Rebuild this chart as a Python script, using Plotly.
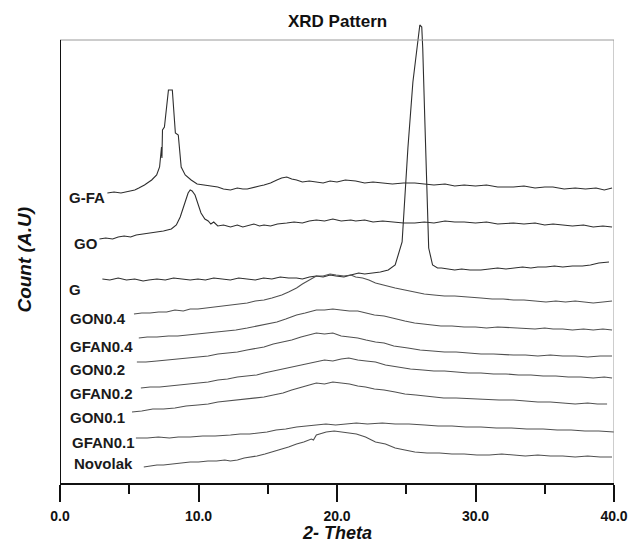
import plotly.graph_objects as go

# ---- data (2-theta in degrees, stacked intensity in arbitrary units) ----
names = ["G-FA", "GO", "G", "GON0.4", "GFAN0.4", "GON0.2", "GFAN0.2", "GON0.1", "GFAN0.1", "Novolak"]

gfa_x = [3.42, 3.9, 4.4, 4.98, 5.4, 5.69, 6.1, 6.62, 6.98, 7.19, 7.33, 7.36, 7.40, 7.54, 7.69, 7.83, 8.11, 8.19, 8.33,
         8.54, 8.68, 8.75, 9.04, 9.47, 9.9, 10.46, 10.9, 11.39, 11.8, 12.31, 12.8, 13.2, 13.52, 14.0, 14.4, 14.73,
         15.2, 15.66, 16.0, 16.37, 16.73, 17.08, 17.5, 18.0, 18.51, 19.0, 19.5, 20.0, 20.6, 21.35, 22.0, 22.6, 23.3,
         24.0, 24.8, 25.62, 26.3, 27.0, 27.8, 28.5, 29.18, 30.0, 30.8, 31.6, 32.74, 33.5, 34.3, 35.0, 35.59, 36.4,
         37.2, 37.94, 38.7, 39.3, 39.86]
gfa_y = [290, 291, 290, 292, 293, 295, 298, 303, 308, 316, 336, 325, 353, 356, 376, 393, 393, 373, 350,
         348, 330, 316, 308, 303, 299, 298, 297, 296, 294, 293, 295, 294, 294, 296, 297, 298,
         300, 303, 305, 306, 304, 303, 301, 302, 301, 300, 302, 301, 303, 302, 300, 301, 300,
         299, 300, 300, 299, 298, 299, 297, 298, 297, 298, 296, 296, 297, 295, 296, 296, 294,
         295, 294, 295, 293, 295]

go_x = [2.85, 3.3, 3.8, 4.2, 4.63, 5.1, 5.5, 6.0, 6.41, 6.9, 7.47, 8.04, 8.40, 8.68, 8.97, 9.25, 9.40, 9.54, 9.75,
        9.96, 10.18, 10.46, 10.7, 10.89, 11.1, 11.39, 11.8, 12.31, 12.8, 13.2, 13.52, 14.0, 14.4, 14.73, 15.2, 15.7,
        16.37, 16.9, 17.5, 18.0, 18.51, 19.1, 19.7, 20.3, 21.0, 21.35, 22.0, 22.6, 23.3, 24.0, 24.8, 25.62, 26.3,
        27.0, 27.8, 28.5, 29.18, 30.0, 30.8, 31.6, 32.74, 33.5, 34.3, 35.0, 35.6, 36.30, 37.0, 37.8, 38.5, 39.2, 39.86]
go_y = [244, 245, 244, 246, 247, 246, 248, 249, 250, 251, 252, 254, 258, 266, 278, 290, 293, 292, 288,
        280, 270, 264, 262, 259, 261, 257, 258, 256, 258, 256, 257, 259, 257, 258, 257, 259,
        260, 261, 260, 262, 263, 262, 264, 262, 263, 262, 263, 261, 262, 261, 260, 260, 261,
        260, 262, 261, 261, 260, 261, 259, 260, 259, 260, 258, 259, 258, 257, 258, 256, 257, 256]

g_x = [3.06, 3.6, 4.2, 4.8, 5.4, 6.0, 6.41, 7.0, 7.6, 8.2, 8.8, 9.4, 9.96, 10.5, 11.1, 11.7, 12.3, 12.9, 13.52,
       14.1, 14.7, 15.3, 15.9, 16.5, 17.08, 17.5, 18.01, 18.5, 19.0, 19.5, 19.93, 20.5, 21.0, 21.57, 22.0, 22.6,
       23.13, 23.7, 24.20, 24.70, 25.12, 25.48, 25.77, 25.98, 26.12, 26.19, 26.33, 26.48, 26.62, 26.90, 27.26,
       27.54, 28.0, 28.5, 29.0, 29.6, 30.39, 31.0, 31.6, 32.2, 32.74, 33.4, 34.0, 34.5, 35.09, 35.7, 36.3, 37.0,
       37.72, 38.3, 38.9, 39.64]
g_y = [204, 203, 205, 203, 204, 202, 203, 204, 203, 205, 204, 203, 204, 203, 205, 204, 203, 205, 204,
       203, 205, 204, 206, 205, 205, 204, 206, 207, 206, 208, 207, 206, 208, 210, 209, 210,
       211, 213, 218, 241, 335, 401, 436, 458, 456, 435, 368, 285, 235, 218, 215,
       215, 214, 213, 214, 213, 213, 214, 215, 214, 215, 216, 215, 216, 216, 217, 216, 217,
       217, 218, 220, 221]

gon04_x = [5.34, 5.9, 6.5, 7.12, 7.7, 8.3, 8.9, 9.4, 9.96, 10.5, 11.1, 11.7, 12.31, 12.9, 13.52, 14.1, 14.73, 15.3,
           16.01, 16.5, 17.08, 17.5, 18.01, 18.51, 19.0, 19.5, 19.93, 20.5, 21.0, 21.35, 21.85, 22.3, 22.78, 23.3,
           23.7, 24.20, 24.9, 25.62, 26.3, 27.0, 27.76, 28.5, 29.2, 30.39, 31.2, 32.0, 32.74, 33.5, 34.3, 35.09,
           35.8, 36.5, 37.2, 37.72, 38.5, 39.2, 39.86]
gon04_y = [169, 170, 170, 171, 171, 173, 172, 174, 174, 175, 176, 177, 178, 179, 180, 182, 183, 185,
           188, 191, 195, 199, 203, 207, 207, 209, 208, 207, 208, 206, 205, 203, 200, 198,
           197, 195, 193, 191, 189, 188, 187, 187, 186, 185, 184, 184, 183, 183, 182, 181,
           182, 181, 182, 181, 180, 181, 182]

gfan04_x = [5.69, 6.3, 7.0, 7.83, 8.5, 9.2, 9.96, 10.6, 11.3, 12.0, 12.7, 13.52, 14.2, 14.9, 15.66, 16.3, 17.08,
            17.7, 18.51, 19.1, 19.7, 20.28, 20.9, 21.5, 22.06, 22.7, 23.4, 24.20, 24.9, 25.6, 26.83, 27.5, 28.3,
            29.18, 30.0, 30.8, 31.6, 32.74, 33.5, 34.3, 35.0, 35.6, 36.30, 37.0, 37.8, 38.5, 39.2, 39.86]
gfan04_y = [145, 146, 146, 147, 147, 148, 149, 150, 151, 152, 153, 155, 157, 159, 161, 164, 168,
            170, 173, 173, 174, 173, 172, 172, 170, 168, 167, 164, 162, 160, 158, 157, 157,
            156, 156, 155, 156, 155, 155, 154, 155, 154, 154, 153, 154, 153, 154, 153]

gon02_x = [5.55, 6.2, 7.0, 7.83, 8.6, 9.3, 9.96, 10.7, 11.4, 12.1, 12.81, 13.5, 14.2, 14.73, 15.4, 16.1, 16.73,
           17.4, 18.0, 18.51, 19.1, 19.7, 20.3, 20.85, 21.5, 22.1, 22.78, 23.4, 24.1, 25.12, 26.0, 26.9, 27.76,
           28.6, 29.5, 30.4, 31.3, 32.2, 32.74, 33.6, 34.5, 35.4, 36.30, 37.2, 38.1, 39.0, 39.86]
gon02_y = [121, 121, 122, 123, 124, 125, 126, 127, 129, 130, 131, 133, 135, 136, 139, 141, 143,
           146, 148, 150, 149, 150, 147, 146, 145, 143, 141, 140, 137, 135, 133, 132, 131,
           131, 130, 129, 129, 128, 128, 128, 127, 128, 127, 127, 126, 127, 127]

gfan02_x = [5.84, 6.5, 7.2, 7.83, 8.5, 9.2, 9.96, 10.7, 11.4, 12.1, 12.81, 13.5, 14.2, 14.73, 15.4, 16.1, 16.73,
            17.4, 18.0, 18.51, 19.1, 19.7, 20.3, 20.85, 21.5, 22.1, 22.78, 23.5, 24.41, 25.3, 26.2, 27.0, 27.76,
            28.6, 29.5, 30.39, 31.3, 32.2, 33.1, 34.0, 34.88, 35.8, 36.7, 37.6, 38.5, 39.3, 39.86]
gfan02_y = [95, 96, 96, 97, 98, 99, 100, 101, 103, 104, 106, 107, 108, 110, 112, 114, 116,
            118, 120, 121, 123, 122, 124, 125, 123, 122, 121, 118, 116, 114, 113, 112, 112,
            111, 110, 110, 109, 109, 108, 108, 107, 107, 106, 106, 105, 106, 105]

gon01_x = [5.20, 5.9, 6.7, 7.47, 8.3, 9.1, 9.96, 10.7, 11.4, 12.1, 12.81, 13.5, 14.2, 14.73, 15.4, 16.1, 16.73,
           17.4, 18.0, 18.51, 19.1, 19.7, 20.28, 20.9, 21.5, 22.06, 22.7, 23.4, 24.20, 24.9, 25.7, 26.83, 27.7,
           28.6, 29.89, 30.8, 31.7, 32.74, 33.6, 34.5, 35.4, 36.30, 37.2, 38.1, 38.8, 39.50]
gon01_y = [71, 72, 74, 74, 75, 77, 78, 79, 81, 82, 83, 84, 85, 86, 88, 90, 93,
           96, 98, 100, 99, 101, 100, 99, 97, 96, 94, 93, 91, 89, 88, 86, 85,
           85, 84, 84, 83, 83, 82, 81, 81, 80, 79, 80, 79, 79]

gfan01_x = [5.48, 6.3, 7.1, 7.9, 8.54, 9.4, 10.3, 11.2, 12.31, 13.0, 13.7, 14.3, 14.95, 15.6, 16.3, 17.08, 17.8,
            18.51, 19.2, 19.9, 20.64, 21.4, 22.2, 23.27, 24.2, 25.2, 26.33, 27.3, 28.3, 29.3, 30.39, 31.5, 32.6,
            33.7, 34.88, 35.9, 36.9, 37.9, 38.9, 40.0]
gfan01_y = [45, 45, 46, 45, 46, 46, 47, 47, 48, 49, 49, 50, 51, 53, 54, 56, 57,
            58, 59, 58, 59, 60, 59, 60, 59, 59, 58, 57, 57, 56, 56, 55, 55,
            54, 54, 53, 53, 52, 52, 51]

nov_x = [6.05, 6.6, 7.0, 7.47, 8.1, 8.75, 9.4, 10.0, 10.68, 11.3, 11.9, 12.3, 12.81, 13.3, 13.8, 14.23, 14.8, 15.3,
         15.87, 16.5, 17.08, 17.6, 18.15, 18.3, 18.51, 19.22, 19.8, 20.3, 20.85, 21.4, 22.06, 22.4, 22.78, 23.5,
         24.20, 24.9, 25.62, 26.5, 27.4, 28.3, 29.18, 30.1, 31.0, 31.9, 32.74, 33.6, 34.5, 35.4, 36.30, 37.2, 38.1,
         39.0, 39.86]
nov_y = [16, 17, 18, 18, 19, 20, 21, 21, 22, 22, 23, 22, 23, 25, 26, 27, 29, 31,
         33, 36, 39, 41, 44, 43, 48, 51, 52, 51, 50, 49, 46, 44, 41, 39,
         35, 33, 31, 30, 30, 29, 29, 28, 28, 29, 28, 27, 28, 27, 27, 26, 27,
         26, 26]

series_x = [gfa_x, go_x, g_x, gon04_x, gfan04_x, gon02_x, gfan02_x, gon01_x, gfan01_x, nov_x]
series_y = [gfa_y, go_y, g_y, gon04_y, gfan04_y, gon02_y, gfan02_y, gon01_y, gfan01_y, nov_y]

# label anchor (left edge theta, intensity level)
label_x = [0.50, 0.85, 0.50, 0.57, 0.57, 0.57, 0.57, 0.57, 0.71, 0.85]
label_y = [286, 240, 194, 165, 137, 114, 90, 66, 41, 20]

x_ticks = [0, 10, 20, 30, 40]
x_ticktext = ["0.0", "10.0", "20.0", "30.0", "40.0"]
x_minor = [5, 15, 25, 35]

FONT = "Liberation Sans, Arial, sans-serif"
colors = ["#2e2e2e", "#2e2e2e", "#2e2e2e"] + ["#505050"] * 7

fig = go.Figure()
for i, nm in enumerate(names):
    fig.add_trace(go.Scatter(x=series_x[i], y=series_y[i], mode="lines", name=nm,
                             line=dict(color=colors[i], width=1.1), hoverinfo="skip",
                             showlegend=False))
    fig.add_annotation(x=label_x[i], y=label_y[i], text=nm, showarrow=False,
                       xanchor="left", yanchor="middle",
                       font=dict(family=FONT, size=15, color="#1a1a1a", weight="bold"))

FRAME_TOP = 443
fig.add_shape(type="line", x0=0, x1=40, y0=FRAME_TOP, y1=FRAME_TOP, xref="x", yref="y",
              line=dict(color="#9a9a9a", width=1))
fig.add_shape(type="line", x0=40, x1=40, y0=0, y1=FRAME_TOP, xref="x", yref="y",
              line=dict(color="#9a9a9a", width=1))
fig.add_shape(type="line", x0=0, x1=0, y0=0, y1=FRAME_TOP, xref="x", yref="y",
              line=dict(color="#111111", width=2))

fig.add_annotation(x=0.5, y=0.9957, xref="paper", yref="paper", text="XRD Pattern", showarrow=False,
                   xanchor="center", yanchor="middle",
                   font=dict(family=FONT, size=17, color="#111111", weight="bold"))
fig.add_annotation(x=0.5, y=-0.1317, xref="paper", yref="paper", text="<i>2- Theta</i>", showarrow=False,
                   xanchor="center", yanchor="bottom", borderpad=0,
                   font=dict(family=FONT, size=18, color="#111111", weight="bold"))
fig.add_annotation(x=-0.0658, y=0.4816, xref="paper", yref="paper", text="<i>Count (A.U)</i>", showarrow=False,
                   xanchor="center", yanchor="middle", textangle=-90,
                   font=dict(family=FONT, size=19, color="#111111", weight="bold"))

# the page body adds an 8px offset; size the figure so the plot lands where the reference has it
fig.update_layout(
    width=632, height=537,
    margin=dict(l=52, r=18, t=12, b=62),
    paper_bgcolor="white", plot_bgcolor="white",
    xaxis=dict(range=[0, 40], showgrid=False, zeroline=False,
               showline=True, linecolor="#111111", linewidth=2,
               ticks="outside", ticklen=17, tickwidth=2, tickcolor="#111111",
               tickvals=x_ticks, ticktext=x_ticktext, ticklabelstandoff=2,
               tickfont=dict(family=FONT, size=14, color="#111111", weight="bold"),
               minor=dict(tickvals=x_minor, ticks="outside", ticklen=9, tickwidth=2, tickcolor="#111111")),
    yaxis=dict(range=[0, 463], visible=False, showgrid=False, zeroline=False),
)

fig.write_html("out.html")
